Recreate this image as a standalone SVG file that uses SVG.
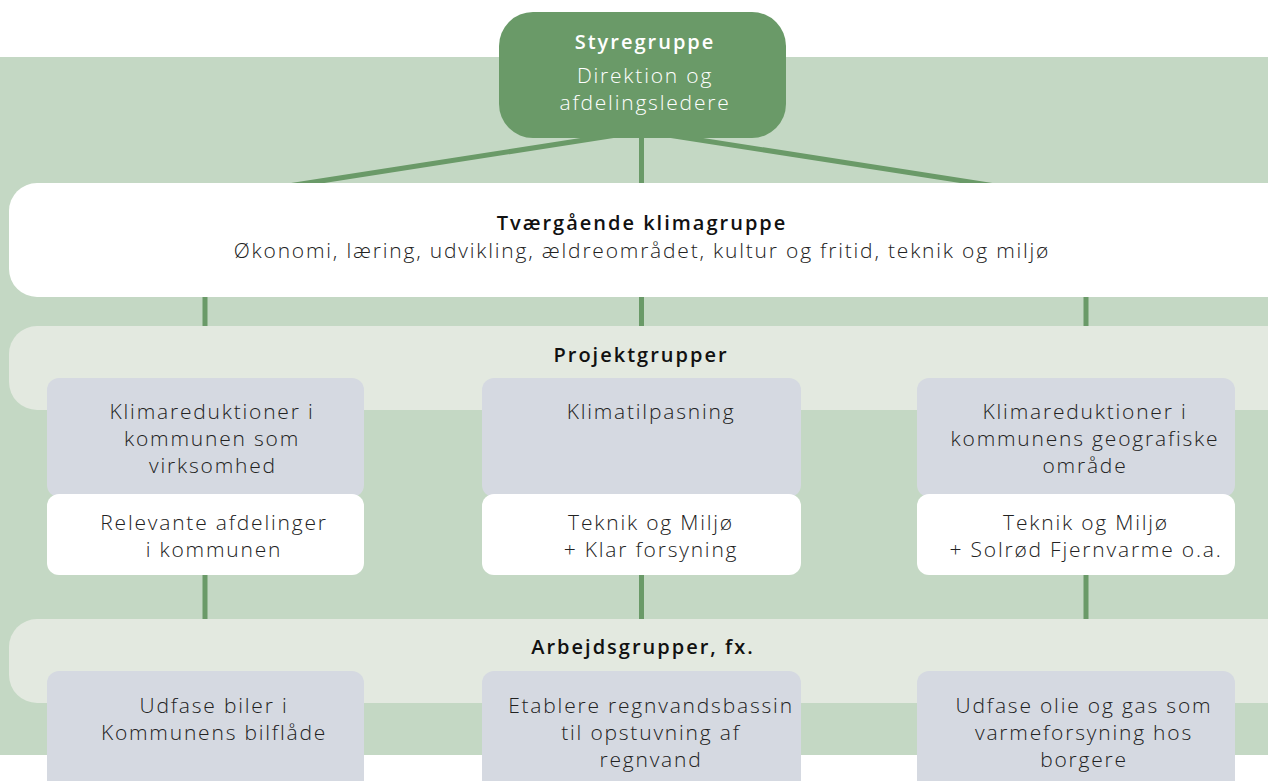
<svg xmlns="http://www.w3.org/2000/svg" width="1268" height="781" viewBox="0 0 1268 781">
<style>
.conn{stroke:#6a9a68;stroke-width:5;fill:none}
text{font-variant-ligatures:none}
.t{font-family:"Open Sans","Liberation Sans",sans-serif;font-weight:300;font-size:21px;letter-spacing:1.8px;fill:#222;text-anchor:middle}
.b{font-family:"Open Sans","Liberation Sans",sans-serif;font-weight:600;font-size:20px;letter-spacing:2px;fill:#111;text-anchor:middle}
.grey{fill:#d5d9e1}
.white{fill:#ffffff}
.band{fill:#e3e9e0}
</style>
<rect x="0" y="0" width="1268" height="781" fill="#ffffff"/>
<rect id="background" x="0" y="57" width="1268" height="698" fill="#c4d8c4"/>
<g id="connectors">
<line class="conn" x1="642" y1="131" x2="205" y2="199"/>
<line class="conn" x1="642" y1="131" x2="1086" y2="200"/>
<line class="conn" x1="641.5" y1="130" x2="641.5" y2="190"/>
<line class="conn" x1="205" y1="290" x2="205" y2="330"/>
<line class="conn" x1="641.5" y1="290" x2="641.5" y2="330"/>
<line class="conn" x1="1086" y1="290" x2="1086" y2="330"/>
<line class="conn" x1="205" y1="570" x2="205" y2="625"/>
<line class="conn" x1="641.5" y1="570" x2="641.5" y2="625"/>
<line class="conn" x1="1086" y1="570" x2="1086" y2="625"/>
</g>
<g id="styregruppe">
<rect x="499" y="12" width="287" height="126" rx="34" fill="#6a9a68"/>
<text class="b" x="645" y="49" style="fill:#fff">Styregruppe</text>
<text class="t" x="645" y="83" style="fill:#fff">Direktion og</text>
<text class="t" x="645" y="110" style="fill:#fff">afdelingsledere</text>
</g>
<g id="tvaergaaende">
<rect class="white" x="9" y="183" width="1290" height="114" rx="28"/>
<text class="b" x="642" y="230">Tværgående klimagruppe</text>
<text class="t" x="642" y="258">Økonomi, læring, udvikling, ældreområdet, kultur og fritid, teknik og miljø</text>
</g>
<g id="projektgrupper">
<rect class="band" x="9" y="326" width="1290" height="84" rx="28"/>
<text class="b" x="641" y="362">Projektgrupper</text>
</g>
<g id="pg-virksomhed">
<rect class="grey" x="47" y="378" width="317" height="119" rx="12"/>
<rect class="white" x="47" y="494" width="317" height="81" rx="12"/>
<text class="t" x="212" y="419">Klimareduktioner i</text>
<text class="t" x="212" y="446">kommunen som</text>
<text class="t" x="213" y="473">virksomhed</text>
<text class="t" x="214" y="530">Relevante afdelinger</text>
<text class="t" x="214" y="557">i kommunen</text>
</g>
<g id="pg-klimatilpasning">
<rect class="grey" x="482" y="378" width="319" height="119" rx="12"/>
<rect class="white" x="482" y="494" width="319" height="81" rx="12"/>
<text class="t" x="651" y="419">Klimatilpasning</text>
<text class="t" x="651" y="530">Teknik og Miljø</text>
<text class="t" x="651" y="557">+ Klar forsyning</text>
</g>
<g id="pg-geografisk">
<rect class="grey" x="917" y="378" width="318" height="119" rx="12"/>
<rect class="white" x="917" y="494" width="318" height="81" rx="12"/>
<text class="t" x="1085" y="419">Klimareduktioner i</text>
<text class="t" x="1085" y="446">kommunens geografiske</text>
<text class="t" x="1085" y="473">område</text>
<text class="t" x="1086" y="530">Teknik og Miljø</text>
<text class="t" x="1086" y="557">+ Solrød Fjernvarme o.a.</text>
</g>
<g id="arbejdsgrupper">
<rect class="band" x="9" y="619" width="1290" height="84" rx="28"/>
<text class="b" x="643" y="654">Arbejdsgrupper, fx.</text>
</g>
<g id="ag-biler">
<rect class="grey" x="47" y="671" width="317" height="130" rx="12"/>
<text class="t" x="214" y="713">Udfase biler i</text>
<text class="t" x="214" y="740">Kommunens bilflåde</text>
</g>
<g id="ag-regnvand">
<rect class="grey" x="482" y="671" width="319" height="130" rx="12"/>
<text class="t" x="651" y="713">Etablere regnvandsbassin</text>
<text class="t" x="651" y="740">til opstuvning af</text>
<text class="t" x="651" y="767">regnvand</text>
</g>
<g id="ag-olie">
<rect class="grey" x="917" y="671" width="318" height="130" rx="12"/>
<text class="t" x="1084" y="713">Udfase olie og gas som</text>
<text class="t" x="1084" y="740">varmeforsyning hos</text>
<text class="t" x="1084" y="767">borgere</text>
</g>
</svg>
